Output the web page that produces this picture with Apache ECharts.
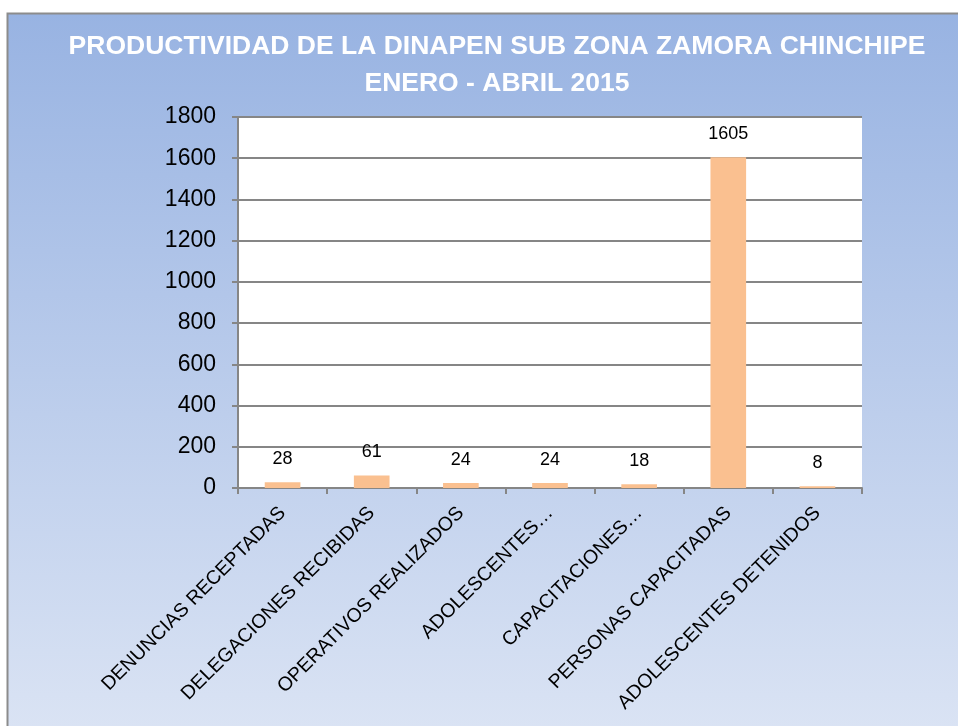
<!DOCTYPE html>
<html><head><meta charset="utf-8">
<script src="https://cdn.jsdelivr.net/npm/echarts@6/dist/echarts.min.js"></script>
<style>html,body{margin:0;padding:0;background:#fff}#c{width:958px;height:726px}</style>
</head><body><div id="c"></div>
<script>
const categories = ["DENUNCIAS RECEPTADAS","DELEGACIONES RECIBIDAS","OPERATIVOS REALIZADOS","ADOLESCENTES…","CAPACITACIONES…","PERSONAS CAPACITADAS","ADOLESCENTES DETENIDOS"];
const values = [28, 61, 24, 24, 18, 1605, 8];
const titleLines = ["PRODUCTIVIDAD DE LA DINAPEN SUB ZONA ZAMORA CHINCHIPE", "ENERO - ABRIL 2015"];
const yTicks = {min: 0, max: 1800, interval: 200};

const chart = echarts.init(document.getElementById('c'));
const font = '"Liberation Sans", Arial, sans-serif';
chart.setOption({
  backgroundColor: '#ffffff',
  animation: false,
  graphic: [{
    type: 'rect', z: -10, silent: true,
    shape: {x: 7.5, y: 13.5, width: 1000, height: 800},
    style: {
      fill: new echarts.graphic.LinearGradient(0, 0, 0, 1, [
        {offset: 0, color: '#98b3e2'}, {offset: 1, color: '#e2e9f6'}
      ]),
      stroke: '#8c8c8c', lineWidth: 2
    }
  }],
  title: {
    text: titleLines.join('\n'),
    left: 492, top: 23, textAlign: 'center',
    textStyle: {color: '#ffffff', fontSize: 26.5, fontWeight: 'bold', fontFamily: font, lineHeight: 37}
  },
  grid: {left: 238, right: 96, top: 117, bottom: 238, show: true, backgroundColor: '#ffffff', borderWidth: 0},
  xAxis: {
    type: 'category', data: categories,
    axisLine: {lineStyle: {color: '#868686', width: 2}},
    axisTick: {show: true, length: 6, lineStyle: {color: '#868686', width: 2}},
    axisLabel: {rotate: 45, interval: 0, color: '#000', fontSize: 19.5, fontFamily: font, margin: 22}
  },
  yAxis: {
    type: 'value', min: yTicks.min, max: yTicks.max, interval: yTicks.interval,
    axisLine: {show: true, lineStyle: {color: '#868686', width: 2}},
    axisTick: {show: true, length: 6, lineStyle: {color: '#868686', width: 2}},
    splitLine: {lineStyle: {color: '#868686', width: 2}},
    axisLabel: {color: '#000', fontSize: 23, fontFamily: font, margin: 22, formatter: v => String(v)}
  },
  series: [{
    type: 'bar', data: values, barWidth: '40%',
    itemStyle: {color: '#fac090'},
    label: {show: true, position: 'top', distance: 14, color: '#000', fontSize: 18, fontFamily: font}
  }]
});
</script></body></html>
